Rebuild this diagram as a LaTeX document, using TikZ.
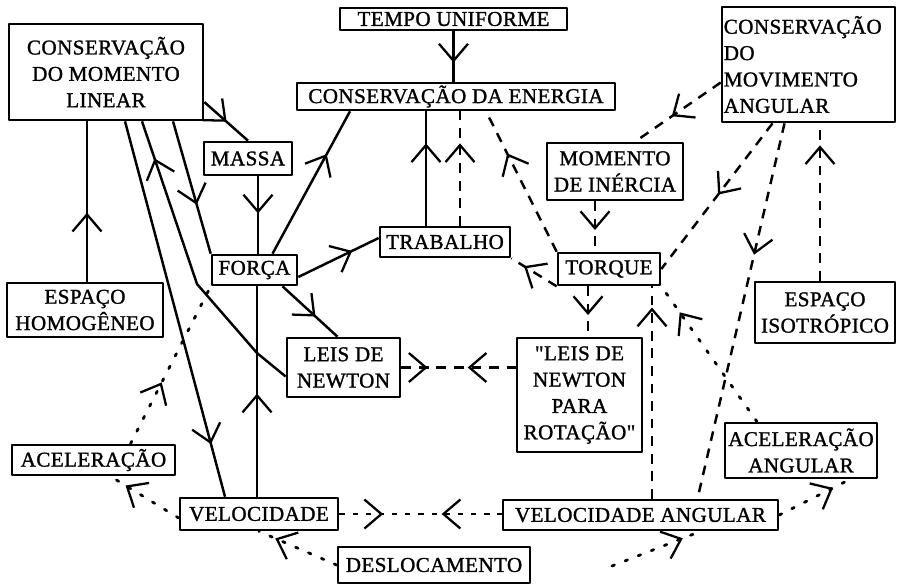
\documentclass[tikz,border=0pt]{standalone}
\usepackage{fontspec}
\setmainfont{Liberation Serif}
\newfontfamily\scanfont{Liberation Serif}[FakeBold=1.3, LetterSpace=2]
\usetikzlibrary{arrows.meta, decorations.markings}

\tikzset{
  vtip/.tip={Straight Barb[length=3.4mm, width=5.8mm, line width=1.3pt]},
  concept/.style={draw, line width=1.5pt, align=center, inner sep=1pt,
    font=\scanfont\fontsize{12}{15}\selectfont},
  sz/.style 2 args={minimum width=#1*0.02cm, minimum height=#2*0.02cm},
  link/.style={line width=1.4pt},
  dlink/.style={line width=1.4pt, dash pattern=on 5.5pt off 4.5pt},
  sdlink/.style={line width=1.4pt, dash pattern=on 3pt off 4.5pt},
  tlink/.style={line width=1.6pt, line cap=round, dash pattern=on 1.5pt off 6.5pt},
  tipat/.style={postaction={decorate}, decoration={markings,
    mark=at position #1 with {\arrow{vtip}}}},
  tipsmeet/.style 2 args={postaction={decorate}, decoration={markings,
    mark=at position #1 with {\arrow{vtip}},
    mark=at position #2 with {\arrowreversed{vtip}}}},
}

\begin{document}
\begin{tikzpicture}[x=0.02cm, y=-0.02cm, line join=round]

% Background
\fill[white] (0,0) rectangle (898,586);
\useasboundingbox (0,0) rectangle (898,586);

% ================================================================
% Concepts (centres and sizes in px of a 898x586 sheet)
% ================================================================
\node[concept, sz={194}{96}] (cml) at (106,72) {CONSERVAÇÃO\\DO MOMENTO\\LINEAR};
\node[concept, sz={227}{22}] (tempo) at (453.5,19) {TEMPO UNIFORME};
\node[concept, sz={318}{27}] (energia) at (456,96.5) {CONSERVAÇÃO DA ENERGIA};
\node[concept, sz={173}{115}, align=left, text width=3.39cm] (cma) at (808.5,64.5)
  {CONSERVAÇÃO\\DO\\MOVIMENTO\\ANGULAR};
\node[concept, sz={88}{33}] (massa) at (248,158.5) {MASSA};
\node[concept, sz={136}{57}] (momento) at (615,171.5) {MOMENTO\\DE INÉRCIA};
\node[concept, sz={130}{30}] (trabalho) at (445,242) {TRABALHO};
\node[concept, sz={85}{30}] (forca) at (254.5,270) {FORÇA};
\node[concept, sz={102}{32}] (torque) at (609,269) {TORQUE};
\node[concept, sz={156}{54}] (homog) at (85,310) {ESPAÇO\\HOMOGÊNEO};
\node[concept, sz={140}{61}] (iso) at (825,312.5) {ESPAÇO\\ISOTRÓPICO};
\node[concept, sz={113}{59}] (leis) at (343.5,367.5) {LEIS DE\\NEWTON};
\node[concept, sz={125}{114}] (leisrot) at (579.5,395) {"LEIS DE\\NEWTON\\PARA\\ROTAÇÃO"};
\node[concept, sz={163}{30}] (acel) at (93.5,460) {ACELERAÇÃO};
\node[concept, sz={152}{55}] (acelang) at (801,450.5) {ACELERAÇÃO\\ANGULAR};
\node[concept, sz={158}{32}] (velocidade) at (259,514) {VELOCIDADE};
\node[concept, sz={275}{30}] (velang) at (640.5,515) {VELOCIDADE ANGULAR};
\node[concept, sz={192}{36}] (desloc) at (434,565) {DESLOCAMENTO};

% bend points and loose end
\coordinate (k1) at (257,353);
\coordinate (k2) at (197,284);
\coordinate (dstart) at (612,566);

% ================================================================
% Solid links
% ================================================================
\draw[link, tipat=0.62] (tempo.south) -- (tempo.south |- energia.north);
\draw[link, tipat=0.43] ([shift={(2,0)}]homog.north) -- ([shift={(2,0)}]homog.north |- cml.south);
\draw[link, tipat=0.51] (cml.-17) -- (massa.north);
\draw[link, tipat=0.86] ([shift={(19,0)}]cml.south) -- ([shift={(-34,0)}]velocidade.north);
\draw[link, tipat=0.87] ([shift={(0,9)}]leis.west) -- (k1) -- (k2) -- ([shift={(36,0)}]cml.south);
\draw[link, tipat=0.63] ([shift={(67,0)}]cml.south) -- (forca.north west);
\draw[link, tipat=0.48] ([shift={(10,0)}]massa.south) -- ([shift={(10,0)}]massa.south |- forca.north);
\draw[link, tipat=0.70] ([shift={(18,0)}]forca.north) -- ([shift={(-106,0)}]energia.south);
\draw[link, tipat=0.67] ([shift={(0,7)}]forca.east) -- ([shift={(0,-4)}]trabalho.west);
\draw[link, tipat=0.60] ([shift={(28,0)}]forca.south) -- ([shift={(-6,0)}]leis.north);
\draw[link, tipat=0.72] ([shift={(-19,0)}]trabalho.north) -- ([shift={(-19,0)}]trabalho.north |- energia.south);
\draw[link, tipat=0.49] ([shift={(-2,0)}]velocidade.north) -- ([shift={(-2,0)}]velocidade.north |- forca.south);

% ================================================================
% Dashed links
% ================================================================
\draw[dlink, tipat=0.72] ([shift={(15,0)}]trabalho.north) -- ([shift={(15,0)}]trabalho.north |- energia.south);
\draw[dlink, tipat=0.70] (torque.north west) -- ([shift={(30,0)}]energia.south);
\draw[dlink, tipat=0.57] ([shift={(0,18)}]cma.west) -- ([shift={(20,0)}]momento.north);
\draw[dlink, tipat=0.49] ([shift={(-36,0)}]cma.south) -- (torque.east);
\draw[dlink, tipat=0.35] ([shift={(-24,0)}]cma.south) -- ([shift={(57,0)}]velang.north);
\draw[dlink, tipat=0.86] ([shift={(-5,0)}]iso.north) -- ([shift={(-5,0)}]iso.north |- cma.south);
\draw[dlink, tipat=0.57] ([shift={(-20,0)}]momento.south) -- ([shift={(-20,0)}]momento.south |- torque.north);
\draw[dlink, tipat=0.57] ([shift={(-21,0)}]torque.south) -- ([shift={(-21,0)}]torque.south |- leisrot.north);
\draw[dlink, tipat=0.72] (torque.south west) -- (trabalho.south east);
\draw[dlink, tipat=0.90] ([shift={(11.5,0)}]velang.north) -- ([shift={(11.5,0)}]velang.north |- torque.south);

% analogies: two tips meeting in the middle
\draw[dlink, tipsmeet={0.23}{0.58}] (leis.east) -- (leis.east -| leisrot.west);
\draw[sdlink, tipsmeet={0.27}{0.63}] (velocidade.east) -- (velocidade.east -| velang.west);

% ================================================================
% Dotted links
% ================================================================
\draw[tlink, tipat=0.81] ([shift={(-44,0)}]acelang.north) -- (torque.south east);
\draw[tlink, tipat=0.76] (velang.east) -- ([shift={(49,0)}]acelang.south);
\draw[tlink, tipat=0.80] (dstart) -- ([shift={(60,0)}]velang.south);
\draw[tlink, tipat=0.78] ([shift={(0,4)}]velocidade.west) -- ([shift={(17,0)}]acel.south);
\draw[tlink, tipat=0.79] (desloc.west) -- (velocidade.south);
\draw[tlink, tipat=0.39] ([shift={(37,0)}]acel.north) -- (forca.south west);

\end{tikzpicture}
\end{document}
